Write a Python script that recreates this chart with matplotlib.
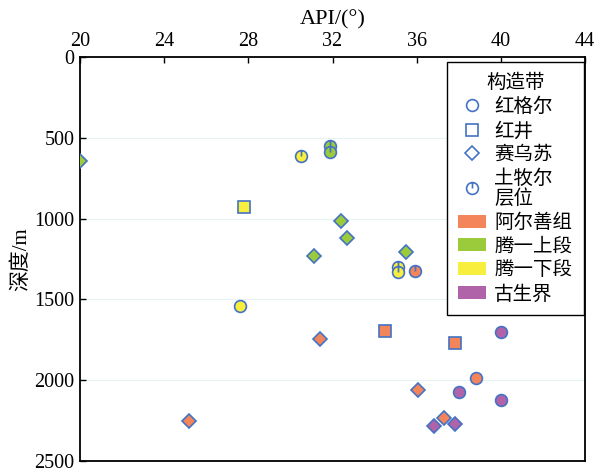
import numpy as np
import matplotlib.pyplot as plt
import matplotlib.patches as mpatches
from matplotlib.lines import Line2D
from matplotlib.path import Path

plt.rcParams['font.family'] = ['Liberation Serif', 'Noto Sans CJK SC']
plt.rcParams['axes.unicode_minus'] = False

# data
api = [27.6, 40.0, 38.8, 38.0, 40.0,
       27.8, 34.5, 37.8,
       20.0, 32.4, 32.7, 31.1, 35.5, 31.4, 36.05, 37.3, 25.2, 36.8, 37.8,
       30.5, 31.9, 31.9, 35.1, 35.1, 35.9]
depth = [1541, 1704, 1984, 2073, 2122,
         930, 1694, 1768,
         645, 1015, 1118, 1230, 1205, 1745, 2060, 2236, 2252, 2283, 2273,
         610, 550, 588, 1297, 1328, 1322]
structure = ['红格尔'] * 5 + ['红井'] * 3 + ['赛乌苏'] * 11 + ['土牧尔\n层位'] * 6
formation = ['腾一下段', '古生界', '阿尔善组', '古生界', '古生界',
             '腾一下段', '阿尔善组', '阿尔善组',
             '腾一上段', '腾一上段', '腾一上段', '腾一上段', '腾一上段',
             '阿尔善组', '阿尔善组', '阿尔善组', '阿尔善组', '古生界', '古生界',
             '腾一下段', '腾一上段', '腾一上段', '腾一下段', '腾一下段', '阿尔善组']

structures = ['红格尔', '红井', '赛乌苏', '土牧尔\n层位']
formations = ['阿尔善组', '腾一上段', '腾一下段', '古生界']

# circle with a line from the top to the centre
power = Path.make_compound_path(
    Path.unit_circle(),
    Path([(0, 0), (0, 1)], [Path.MOVETO, Path.LINETO]))
markers = {'红格尔': ('o', 8.5), '红井': ('s', 8.0),
           '赛乌苏': ('D', 7.0), '土牧尔\n层位': (power, 8.5)}
colors = {'阿尔善组': '#F4855A', '腾一上段': '#9BCB3B',
          '腾一下段': '#F8EE3E', '古生界': '#B163A9'}
edge = '#4472C4'

fig = plt.figure(figsize=(5.97, 4.72), dpi=100)
ax = fig.add_axes([0.134, 0.0233, 0.846, 0.856])

for x, y, s, f in zip(api, depth, structure, formation):
    m, ms = markers[s]
    ax.plot(x, y, linestyle='none', marker=m, markersize=ms,
            markerfacecolor=colors[f], markeredgecolor=edge,
            markeredgewidth=1.2, zorder=3)

ax.set_xlim(20, 44)
ax.set_ylim(2500, 0)
ax.set_xticks(np.arange(20, 45, 4))
ax.set_yticks(np.arange(0, 2501, 500))
ax.xaxis.tick_top()
ax.xaxis.set_label_position('top')
ax.tick_params(axis='both', direction='in', length=4, width=1,
               labelsize=14.5, pad=4)
ax.tick_params(axis='x', bottom=False, top=True)
ax.grid(axis='y', color='#e6f2f4', linewidth=0.8)
ax.set_axisbelow(True)
for sp in ax.spines.values():
    sp.set_linewidth(1.3)

ax.set_xlabel('API/(°)', fontsize=16, labelpad=6)
ax.set_ylabel('深度/m', fontsize=15, labelpad=2)

handles = []
for s in structures:
    m, ms = markers[s]
    handles.append(Line2D([], [], linestyle='none', marker=m, markersize=ms,
                          markerfacecolor='white', markeredgecolor=edge,
                          markeredgewidth=1.2, label=s))
for f in formations:
    handles.append(mpatches.Patch(facecolor=colors[f], edgecolor='none', label=f))

leg = ax.legend(handles=handles, title='构造带', loc='upper right',
                bbox_to_anchor=(0.998, 0.988), fontsize=14, title_fontsize=14,
                frameon=True, fancybox=False, edgecolor='black',
                framealpha=1, borderpad=0.6, labelspacing=0.3,
                handlelength=1.4, handleheight=0.65, handletextpad=0.45,
                borderaxespad=0)
for t in leg.get_texts():
    t.set_linespacing(1.05)
leg.get_frame().set_linewidth(1.0)
leg.set_zorder(5)

fig.savefig('out.png', dpi=100)
